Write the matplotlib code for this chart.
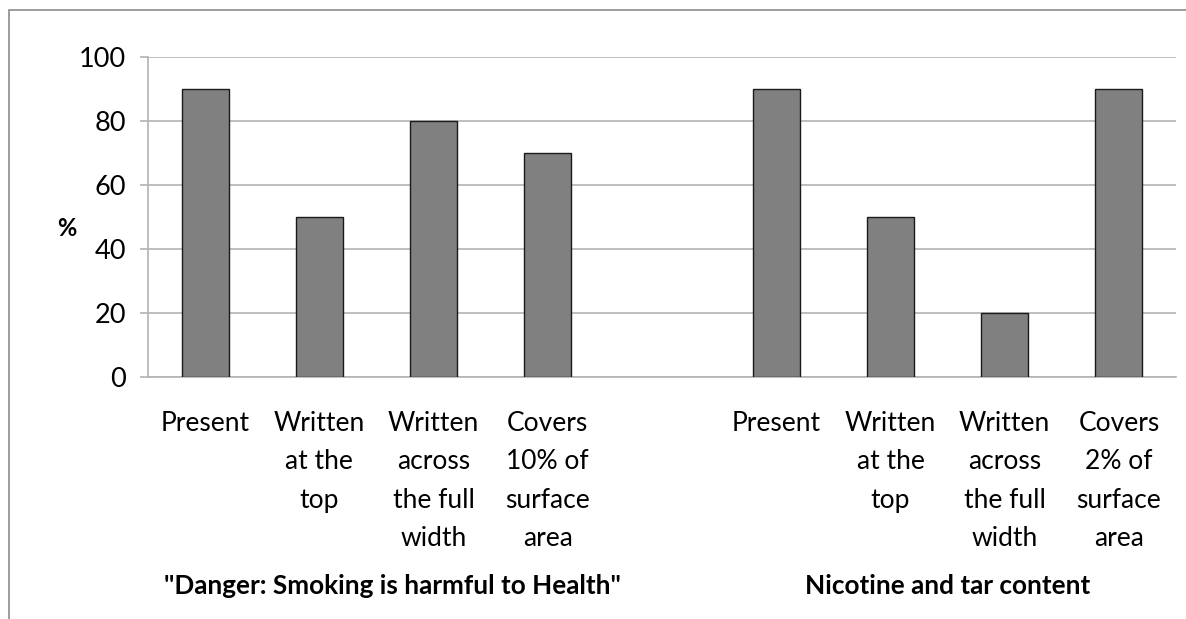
import matplotlib.pyplot as plt
from matplotlib.patches import Rectangle

plt.rcParams['font.family'] = ['Lato', 'DejaVu Sans']

categories = ['Present', 'Written\nat the\ntop', 'Written\nacross\nthe full\nwidth',
              'Covers\n10% of\nsurface\narea', '',
              'Present', 'Written\nat the\ntop', 'Written\nacross\nthe full\nwidth',
              'Covers\n2% of\nsurface\narea']
values = [90, 50, 80, 70, 0, 90, 50, 20, 90]
groups = ['"Danger: Smoking is harmful to Health"', 'Nicotine and tar content']
yticks = [0, 20, 40, 60, 80, 100]

fig = plt.figure(figsize=(11.86, 6.19), dpi=100)
ax = fig.add_axes([148/1186, 1 - 377/619, 1028/1186, 320/619])

# outer chart border (cut off at right and bottom)
fig.patches.append(Rectangle((9/1186, -0.2), 2, 1.2 - 10/619, transform=fig.transFigure,
                             fill=False, edgecolor='#8c8c8c', linewidth=1.2))

x = list(range(len(categories)))
ax.bar([i for i, c in zip(x, categories) if c], [v for v, c in zip(values, categories) if c],
       width=0.41, color='#808080', edgecolor='#1a1a1a', linewidth=1, zorder=3)

ax.set_xlim(-0.5, len(categories) - 0.5)
ax.set_ylim(0, 100)
ax.set_yticks(yticks)
ax.yaxis.grid(True, color='#b3b3b3', linewidth=1.2, zorder=0)
ax.tick_params(axis='y', length=6, color='#b3b3b3', width=1.2, labelsize=19.5, pad=10)
ax.set_xticks([])
for s in ['top', 'right']:
    ax.spines[s].set_visible(False)
for s in ['left', 'bottom']:
    ax.spines[s].set_color('#b3b3b3')
    ax.spines[s].set_linewidth(1.2)

for i, c in enumerate(categories):
    ax.text(i, -0.105, c, transform=ax.get_xaxis_transform(), ha='center', va='top',
            fontsize=19, linespacing=1.68)

ax.text(1.64, -0.615, groups[0], transform=ax.get_xaxis_transform(), ha='center', va='top',
        fontsize=18.8, fontweight='bold')
ax.text(6.5, -0.615, groups[1], transform=ax.get_xaxis_transform(), ha='center', va='top',
        fontsize=18.8, fontweight='bold')

fig.text(67/1186, 1 - 228/619, '%', ha='center', va='center', fontsize=17, fontweight='bold')

fig.savefig('out.png', dpi=100)
